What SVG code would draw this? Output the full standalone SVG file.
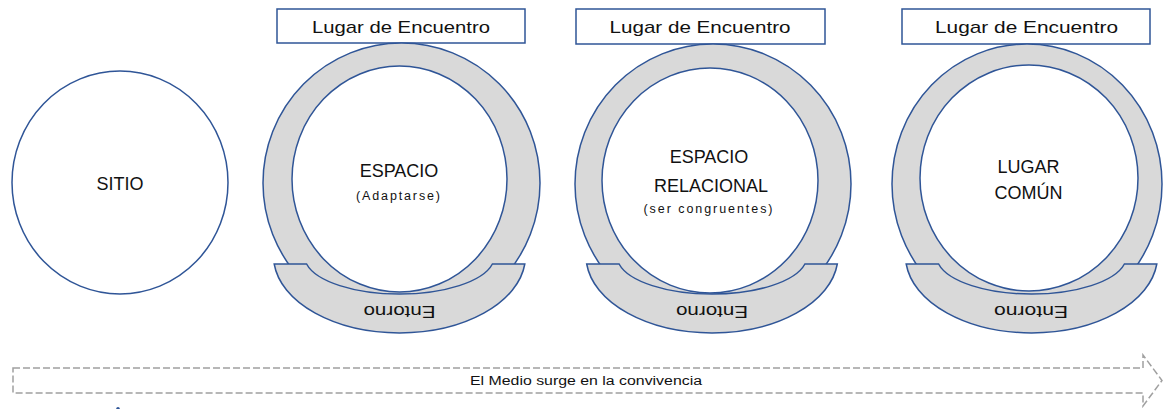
<svg xmlns="http://www.w3.org/2000/svg" width="1163" height="409" viewBox="0 0 1163 409">
<defs>
<style>
.ln{stroke:#2f5597;stroke-width:1.5}
.ring{fill:#d9d9d9}
.in{fill:#ffffff}
.box{fill:#ffffff}
.t{font-family:"Liberation Sans",Arial,sans-serif;fill:#111;text-anchor:middle}
.big{font-size:18px}
.sm{font-size:12.5px}
.hd{font-size:17px}
.arrow{fill:none;stroke:#a0a0a0;stroke-width:1.5;stroke-dasharray:7 3}
</style>
<path id="entorno" class="ln ring" d="M-125.3,264 L-92.9,264 A95 38 0 0 0 92.9,264 L125.3,264 A126 77 0 0 1 -125.3,264 Z"/>
</defs>
<rect width="1163" height="409" fill="#ffffff"/>

<g id="sitio">
<ellipse class="ln" fill="#ffffff" cx="120" cy="182.5" rx="108" ry="111.5"/>
<text class="t big" x="120" y="190">SITIO</text>
</g>

<g id="espacio">
<rect class="ln box" x="277" y="9" width="248" height="34"/>
<text class="t hd" x="401" y="33" textLength="178" lengthAdjust="spacingAndGlyphs">Lugar de Encuentro</text>
<ellipse class="ln ring" cx="401.5" cy="183" rx="138.5" ry="140"/>
<ellipse class="ln in" cx="399.5" cy="179" rx="107.5" ry="113"/>
<use href="#entorno" transform="translate(399.5,0)"/>
<text class="t big" x="399" y="177">ESPACIO</text>
<text class="t sm" x="398" y="200" textLength="84" lengthAdjust="spacing">(Adaptarse)</text>
<text class="t hd" x="399.5" y="318" textLength="72" lengthAdjust="spacingAndGlyphs" transform="rotate(180 399.5 312)">Entorno</text>
</g>

<g id="espacio-relacional">
<rect class="ln box" x="576" y="9" width="249" height="35"/>
<text class="t hd" x="700" y="33" textLength="181" lengthAdjust="spacingAndGlyphs">Lugar de Encuentro</text>
<ellipse class="ln ring" cx="713" cy="184" rx="138" ry="140"/>
<ellipse class="ln in" cx="710" cy="180.5" rx="108" ry="112.5"/>
<use href="#entorno" transform="translate(712,0)"/>
<text class="t big" x="709" y="163">ESPACIO</text>
<text class="t big" x="711" y="192">RELACIONAL</text>
<text class="t sm" x="708" y="213" textLength="129" lengthAdjust="spacing">(ser congruentes)</text>
<text class="t hd" x="712" y="318" textLength="72" lengthAdjust="spacingAndGlyphs" transform="rotate(180 712 312)">Entorno</text>
</g>

<g id="lugar-comun">
<rect class="ln box" x="902" y="9" width="248" height="35"/>
<text class="t hd" x="1026.5" y="33" textLength="183" lengthAdjust="spacingAndGlyphs">Lugar de Encuentro</text>
<ellipse class="ln ring" cx="1027" cy="184" rx="135" ry="140"/>
<ellipse class="ln in" cx="1029" cy="178" rx="109" ry="113"/>
<use href="#entorno" transform="translate(1031.5,0)"/>
<text class="t big" x="1028.5" y="173">LUGAR</text>
<text class="t big" x="1028.5" y="199">COMÚN</text>
<text class="t hd" x="1031" y="318" textLength="74" lengthAdjust="spacingAndGlyphs" transform="rotate(180 1031 312)">Entorno</text>
</g>

<g id="connectors">
<path class="arrow" d="M13,368 H1143 V355 L1162,380.5 L1143,406 V393 H13 Z"/>
<text class="t sm" x="586" y="385" textLength="232" lengthAdjust="spacingAndGlyphs">El Medio surge en la convivencia</text>
</g>
<ellipse cx="118" cy="410" rx="2" ry="3" fill="#2f5597"/>
</svg>
